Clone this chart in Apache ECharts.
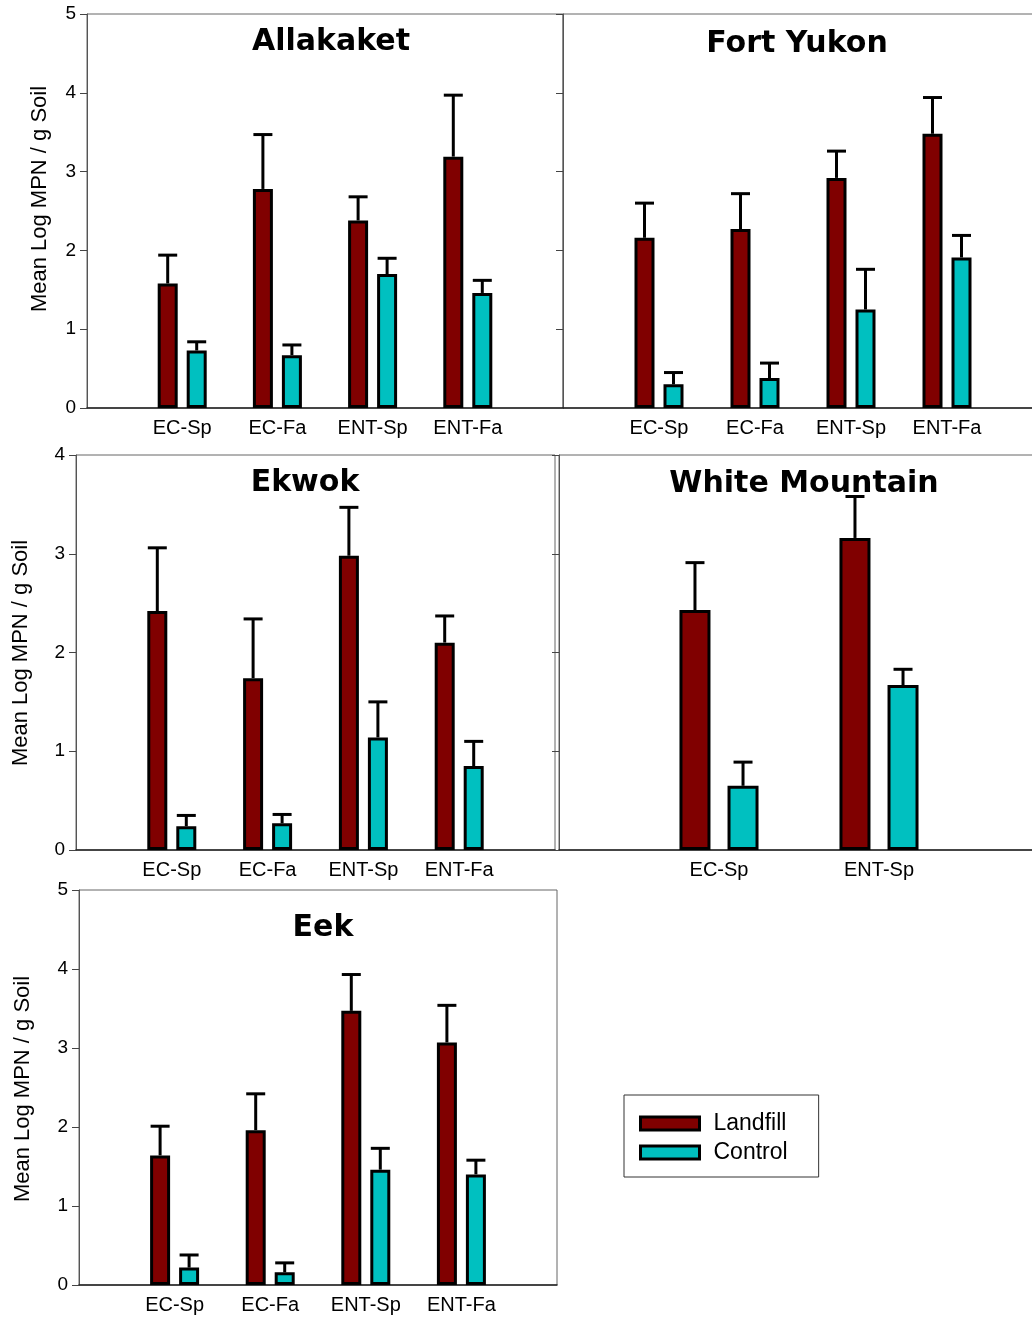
<!DOCTYPE html>
<html><head><meta charset="utf-8">
<script src="https://cdn.jsdelivr.net/npm/echarts@6/dist/echarts.min.js"></script>
<style>html,body{margin:0;padding:0;background:#fff;overflow:hidden}#c{width:1050px;height:1319px}</style>
</head><body><div id="c"></div>
<script>
// ---------- data ----------
const categories4 = ['EC-Sp', 'EC-Fa', 'ENT-Sp', 'ENT-Fa'];
const categoriesWM = ['EC-Sp', 'ENT-Sp'];
const seriesNames = ['Landfill', 'Control'];
const yAxisTitle = 'Mean Log MPN / g Soil';

const allakaketLandfill   = [1.58, 2.78, 2.38, 3.19];
const allakaketLandfillSE = [0.36, 0.69, 0.30, 0.78];
const allakaketControl    = [0.73, 0.67, 1.70, 1.46];
const allakaketControlSE  = [0.11, 0.13, 0.20, 0.16];

const fortYukonLandfill   = [2.16, 2.27, 2.92, 3.48];
const fortYukonLandfillSE = [0.44, 0.45, 0.34, 0.46];
const fortYukonControl    = [0.30, 0.38, 1.25, 1.91];
const fortYukonControlSE  = [0.15, 0.19, 0.51, 0.28];

const ekwokLandfill   = [2.42, 1.74, 2.98, 2.10];
const ekwokLandfillSE = [0.64, 0.60, 0.49, 0.27];
const ekwokControl    = [0.24, 0.27, 1.14, 0.85];
const ekwokControlSE  = [0.11, 0.09, 0.36, 0.25];

const whiteMtnLandfill   = [2.43, 3.16];
const whiteMtnLandfillSE = [0.48, 0.42];
const whiteMtnControl    = [0.65, 1.67];
const whiteMtnControlSE  = [0.24, 0.16];

const eekLandfill   = [1.64, 1.96, 3.47, 3.07];
const eekLandfillSE = [0.37, 0.46, 0.46, 0.47];
const eekControl    = [0.22, 0.16, 1.46, 1.40];
const eekControlSE  = [0.16, 0.12, 0.27, 0.18];

// ---------- layout / styles ----------
const FONT = '"Liberation Sans", Arial, sans-serif';
const TITLE_FONT = 'bold 30px "DejaVu Sans", sans-serif';
const LANDFILL_COLOR = '#800000';
const CONTROL_COLOR = '#00C0C0';

const panels = [
  { title: 'Allakaket', cats: categories4, L: allakaketLandfill, Lse: allakaketLandfillSE, C: allakaketControl, Cse: allakaketControlSE,
    grid: { left: 87, top: 14, width: 476, height: 394 }, ymax: 5, showYLabels: true, barWidth: 20, barGap: 0.45, tx: 331, ty: 42, nx: 40, ny: 199 },
  { title: 'Fort Yukon', cats: categories4, L: fortYukonLandfill, Lse: fortYukonLandfillSE, C: fortYukonControl, Cse: fortYukonControlSE,
    grid: { left: 563, top: 14, width: 480, height: 394 }, ymax: 5, showYLabels: false, barWidth: 20, barGap: 0.45, tx: 797, ty: 44 },
  { title: 'Ekwok', cats: categories4, L: ekwokLandfill, Lse: ekwokLandfillSE, C: ekwokControl, Cse: ekwokControlSE,
    grid: { left: 76, top: 455, width: 479, height: 395 }, ymax: 4, showYLabels: true, barWidth: 20, barGap: 0.45, tx: 305, ty: 483, nx: 21, ny: 653 },
  { title: 'White Mountain', cats: categoriesWM, L: whiteMtnLandfill, Lse: whiteMtnLandfillSE, C: whiteMtnControl, Cse: whiteMtnControlSE,
    grid: { left: 559, top: 455, width: 480, height: 395 }, ymax: 4, showYLabels: false, barWidth: 31, barGap: 0.55, tx: 804, ty: 484 },
  { title: 'Eek', cats: categories4, L: eekLandfill, Lse: eekLandfillSE, C: eekControl, Cse: eekControlSE,
    grid: { left: 79, top: 890, width: 478, height: 395 }, ymax: 5, showYLabels: true, barWidth: 20, barGap: 0.45, tx: 323, ty: 928, nx: 23, ny: 1089 }
];

const CAP = 19;

const grids = [], xAxes = [], yAxes = [], series = [], graphics = [];

panels.forEach((p, gi) => {
  grids.push(Object.assign({ show: true, borderColor: '#666', borderWidth: 1, backgroundColor: 'transparent',
    containLabel: false, outerBoundsMode: 'none' }, p.grid));
  xAxes.push({
    type: 'category', gridIndex: gi, boundaryGap: false,
    data: [''].concat(p.cats, ['']),
    axisLine: { show: true, lineStyle: { color: '#222', width: 1.5 } },
    axisTick: { show: false },
    axisLabel: { show: true, interval: 0, fontFamily: FONT, fontSize: 20, color: '#000', margin: 10 },
    splitLine: { show: false }
  });
  yAxes.push({
    type: 'value', gridIndex: gi, min: 0, max: p.ymax, interval: 1,
    axisLine: { show: true, lineStyle: { color: '#555', width: 1 } },
    axisTick: { show: true, inside: false, length: 7, lineStyle: { color: '#444' } },
    axisLabel: { show: p.showYLabels, fontFamily: FONT, fontSize: 19, color: '#000', margin: 11 },
    splitLine: { show: false }
  });
  const offset = p.barWidth * (1 + p.barGap) / 2;
  const groups = [
    { name: seriesNames[0], vals: p.L, se: p.Lse, color: LANDFILL_COLOR, dx: -offset },
    { name: seriesNames[1], vals: p.C, se: p.Cse, color: CONTROL_COLOR, dx: offset }
  ];
  groups.forEach(g => {
    series.push({
      type: 'bar', name: g.name, xAxisIndex: gi, yAxisIndex: gi,
      barWidth: p.barWidth, barGap: (p.barGap * 100) + '%',
      itemStyle: { color: g.color, borderColor: '#000', borderWidth: 3 },
      emphasis: { disabled: true },
      data: g.vals.map((v, i) => [i + 1, v]),
      z: 2
    });
  });
  groups.forEach(g => {
    series.push({
      type: 'custom', name: g.name + ' SE', xAxisIndex: gi, yAxisIndex: gi,
      data: g.vals.map((v, i) => [i + 1, v, g.se[i]]),
      encode: { x: 0, y: 1 },
      z: 3, silent: true,
      renderItem: function (params, api) {
        const x = api.value(0), m = api.value(1), s = api.value(2);
        const base = api.coord([x, m]);
        const top = api.coord([x, m + s]);
        const cx = base[0] + g.dx;
        const st = { stroke: '#000', lineWidth: 3, fill: null };
        return {
          type: 'group',
          children: [
            { type: 'line', shape: { x1: cx, y1: base[1], x2: cx, y2: top[1] }, style: st },
            { type: 'line', shape: { x1: cx - CAP / 2, y1: top[1], x2: cx + CAP / 2, y2: top[1] }, style: st }
          ]
        };
      }
    });
  });
  graphics.push({ type: 'text', x: p.tx, y: p.ty, silent: true,
    style: { text: p.title, font: TITLE_FONT, fill: '#000', align: 'center', verticalAlign: 'middle' } });
  if (p.nx !== undefined) {
    graphics.push({ type: 'text', x: p.nx, y: p.ny, rotation: Math.PI / 2, silent: true,
      style: { text: yAxisTitle, font: '22px ' + FONT, fill: '#000', align: 'center', verticalAlign: 'middle' } });
  }
});

const chart = echarts.init(document.getElementById('c'), null, { renderer: 'canvas' });
chart.setOption({
  animation: false,
  backgroundColor: '#fff',
  grid: grids,
  xAxis: xAxes,
  yAxis: yAxes,
  legend: {
    data: seriesNames, orient: 'vertical', left: 624, top: 1095,
    padding: [17, 31, 13, 15], itemWidth: 59, itemHeight: 13, itemGap: 6,
    icon: 'rect', borderColor: '#333', borderWidth: 1, selectedMode: false,
    itemStyle: { borderColor: '#000', borderWidth: 3 },
    textStyle: { fontFamily: FONT, fontSize: 23, color: '#000', lineHeight: 16, padding: [0, 0, 0, 9] }
  },
  graphic: graphics,
  series: series
});
</script>
</body></html>
